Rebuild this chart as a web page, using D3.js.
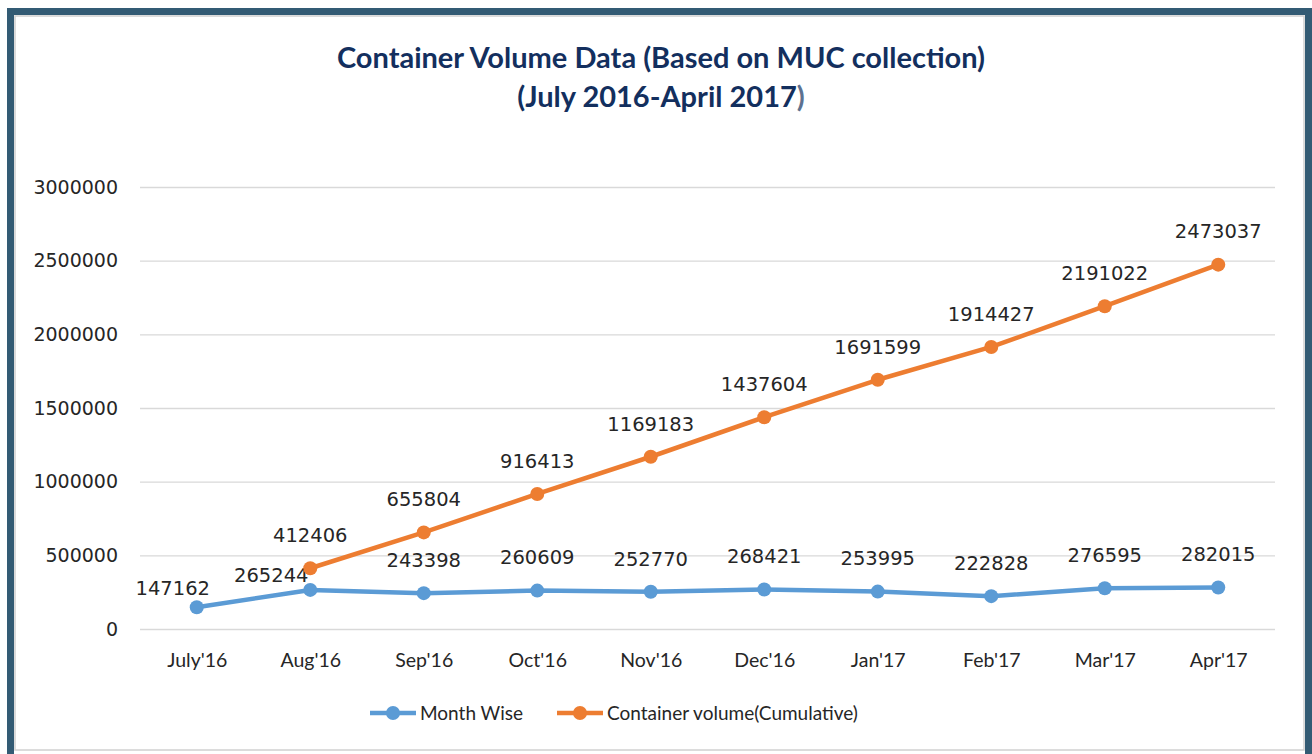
<!DOCTYPE html>
<html>
<head>
<meta charset="utf-8">
<script src="https://cdn.jsdelivr.net/npm/d3@7"></script>
<style>
  body { margin: 0; background: #fff; }
  text { fill: #262626; }
</style>
</head>
<body>
<div id="chart"></div>
<script>
// Chart data
const months = ["July'16", "Aug'16", "Sep'16", "Oct'16", "Nov'16", "Dec'16", "Jan'17", "Feb'17", "Mar'17", "Apr'17"];
const monthWise = [147162, 265244, 243398, 260609, 252770, 268421, 253995, 222828, 276595, 282015];
const cumulative = [null, 412406, 655804, 916413, 1169183, 1437604, 1691599, 1914427, 2191022, 2473037];
const yTicks = [0, 500000, 1000000, 1500000, 2000000, 2500000, 3000000];
const titleLine1 = "Container Volume Data (Based on MUC collection)";
const titleLine2 = "(July 2016-April 2017";
const seriesNames = ["Month Wise", "Container volume(Cumulative)"];

const width = 1312, height = 754;
const margin = { top: 187, right: 37, bottom: 125, left: 140 };
const colors = ["#5b9bd5", "#ed7d31"];
const numFont = "'DejaVu Sans', Verdana, sans-serif";
const textFont = "Lato, 'Open Sans', sans-serif";

// label nudges for the first two month-wise points (moved by hand in the original)
const labelNudge = { 0: [-24, 14], 1: [-39, 18] };

const svg = d3.select("#chart").append("svg")
  .attr("width", width)
  .attr("height", height);

// frame
svg.append("rect")
  .attr("x", 10.5).attr("y", 11.5)
  .attr("width", 1298).attr("height", 800)
  .attr("fill", "#fff")
  .attr("stroke", "#335b74")
  .attr("stroke-width", 7);
svg.append("rect")
  .attr("x", 15).attr("y", 16)
  .attr("width", 1289).attr("height", 734)
  .attr("fill", "none")
  .attr("stroke", "#d0d0d0")
  .attr("stroke-width", 1.5);

// title
const title = svg.append("g")
  .style("font-family", textFont)
  .style("font-weight", "bold")
  .style("font-size", "29px");
title.append("text")
  .attr("x", 661).attr("y", 58).attr("dy", "0.35em")
  .attr("text-anchor", "middle")
  .style("fill", "#132f5e")
  .text(titleLine1);
const t2 = title.append("text")
  .attr("x", 661).attr("y", 97).attr("dy", "0.35em")
  .attr("text-anchor", "middle")
  .style("fill", "#132f5e");
t2.append("tspan").text(titleLine2);
t2.append("tspan").style("fill", "#5d7190").text(")");

const x = d3.scalePoint()
  .domain(months)
  .range([margin.left, width - margin.right])
  .padding(0.5);

const y = d3.scaleLinear()
  .domain([0, 3000000])
  .range([height - margin.bottom, margin.top]);

// gridlines + y labels
const yAxis = svg.append("g")
  .attr("transform", `translate(${margin.left},0)`)
  .call(d3.axisLeft(y).tickValues(yTicks).tickFormat(d3.format("d"))
    .tickSize(-(width - margin.left - margin.right)).tickPadding(22));
yAxis.select(".domain").remove();
yAxis.selectAll(".tick line").attr("stroke", "#d9d9d9").attr("stroke-width", 1.3);
yAxis.selectAll(".tick text")
  .style("font-family", numFont).style("font-size", "19px").style("fill", "#262626");

// x labels
const xAxis = svg.append("g")
  .attr("transform", `translate(0,${height - margin.bottom})`)
  .call(d3.axisBottom(x).tickSize(0).tickPadding(24));
xAxis.select(".domain").remove();
xAxis.selectAll(".tick text")
  .style("font-family", textFont).style("font-size", "19.5px").style("fill", "#262626");

const line = d3.line()
  .defined(d => d != null)
  .x((d, i) => x(months[i]))
  .y(d => y(d));

[monthWise, cumulative].forEach((series, s) => {
  svg.append("path")
    .datum(series)
    .attr("fill", "none")
    .attr("stroke", colors[s])
    .attr("stroke-width", 4.5)
    .attr("stroke-linejoin", "round")
    .attr("d", line);

  const pts = series.map((v, i) => ({ v, i })).filter(d => d.v != null);

  svg.selectAll(null)
    .data(pts)
    .enter().append("circle")
    .attr("cx", d => x(months[d.i]))
    .attr("cy", d => y(d.v))
    .attr("r", 7)
    .attr("fill", colors[s]);

  svg.selectAll(null)
    .data(pts)
    .enter().append("text")
    .attr("x", d => x(months[d.i]) + (s === 0 && labelNudge[d.i] ? labelNudge[d.i][0] : 0))
    .attr("y", d => y(d.v) - 33 + (s === 0 && labelNudge[d.i] ? labelNudge[d.i][1] : 0))
    .attr("dy", "0.35em")
    .attr("text-anchor", "middle")
    .style("font-family", numFont)
    .style("font-size", "19.5px")
    .text(d => d.v);
});

// legend
const legendItems = [{ x: 370, tx: 420 }, { x: 557, tx: 607 }];
legendItems.forEach((it, s) => {
  const g = svg.append("g").attr("transform", `translate(${it.x},713)`);
  g.append("line").attr("x1", 0).attr("x2", 46).attr("y1", 0).attr("y2", 0)
    .attr("stroke", colors[s]).attr("stroke-width", 4.5);
  g.append("circle").attr("cx", 23).attr("cy", 0).attr("r", 7).attr("fill", colors[s]);
  svg.append("text")
    .attr("x", it.tx).attr("y", 713).attr("dy", "0.35em")
    .style("font-family", textFont).style("font-size", "19px")
    .text(seriesNames[s]);
});
</script>
</body>
</html>
